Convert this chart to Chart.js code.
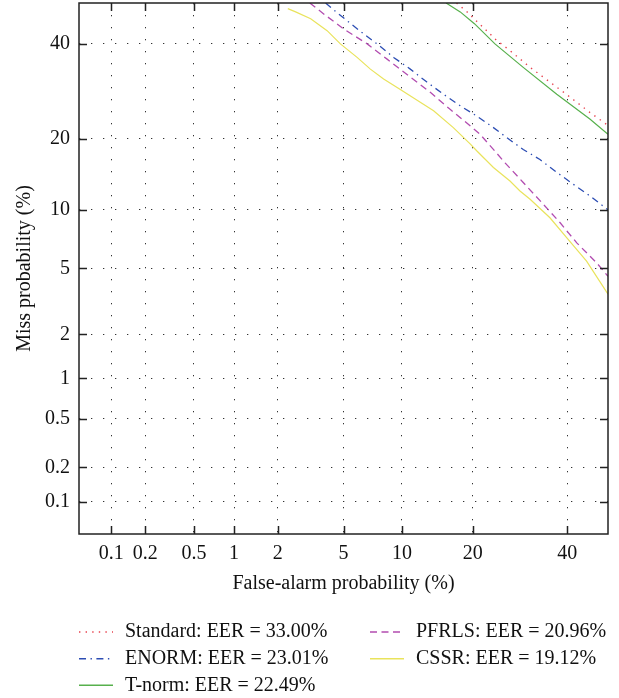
<!DOCTYPE html>
<html><head><meta charset="utf-8">
<script src="https://cdn.jsdelivr.net/npm/chart.js@4.4.1/dist/chart.umd.min.js"></script>
<style>html,body{margin:0;padding:0;background:#fff;}</style>
</head><body>
<canvas id="c" width="619" height="698"></canvas>
<script>
// ---- data (percent) ----
const tickValues = [0.1, 0.2, 0.5, 1, 2, 5, 10, 20, 40];
const tickLabels = ['0.1', '0.2', '0.5', '1', '2', '5', '10', '20', '40'];
const axisMinPct = 0.05, axisMaxPct = 50;

const seriesNames = ['Standard: EER = 33.00%', 'ENORM: EER = 23.01%', 'T-norm: EER = 22.49%', 'PFRLS: EER = 20.96%', 'CSSR: EER = 19.12%'];

const standardFA   = [17.3, 18.9, 20.4, 22.2, 24.1, 27.1, 31.4, 35.9, 40.2, 45.5, 50.0];
const standardMiss = [50.0, 48.0, 45.9, 43.6, 41.2, 38.4, 34.5, 31.2, 28.3, 24.9, 22.4];

const enormFA   = [3.95, 4.31, 5.34, 6.43, 7.84, 9.12, 10.94, 13.0, 15.3, 17.9, 20.7, 23.8, 26.45, 29.9, 33.6, 37.5, 41.5, 45.5, 50.0];
const enormMiss = [50.0, 48.6, 45.3, 42.4, 39.4, 36.8, 34.1, 31.2, 28.6, 26.2, 24.2, 22.0, 20.2, 18.2, 16.6, 14.7, 13.05, 11.6, 10.0];

const tnormFA   = [15.7, 17.9, 20.3, 24.1, 29.9, 37.5, 45.5, 50.0];
const tnormMiss = [50.0, 47.8, 44.9, 40.0, 34.5, 28.6, 23.6, 20.8];

const pfrlsFA   = [3.18, 3.85, 5.01, 6.71, 8.47, 10.56, 13.45, 16.3, 19.6, 21.3, 23.2, 26.1, 29.9, 34.4, 38.3, 42.3, 47.2, 50.0];
const pfrlsMiss = [50.0, 47.3, 43.6, 40.0, 36.4, 32.9, 29.0, 25.5, 22.3, 20.8, 18.8, 16.1, 13.3, 10.6, 8.66, 6.86, 5.36, 4.52];

const cssrFA   = [2.32, 2.6, 3.22, 4.03, 4.80, 5.93, 6.97, 8.14, 9.82, 11.33, 13.9, 16.8, 19.6, 20.7, 23.8, 27.1, 29.2, 31.4, 35.9, 39.9, 44.7, 50.0];
const cssrMiss = [48.6, 47.8, 46.1, 43.2, 40.0, 36.8, 34.1, 31.9, 29.6, 27.8, 25.2, 22.0, 19.1, 18.0, 15.4, 13.5, 12.2, 11.2, 9.16, 7.28, 5.48, 3.56];

// ---- normal deviate (probit) transform used by DET plots ----
function probit(p) {
  const a=[-3.969683028665376e+01,2.209460984245205e+02,-2.759285104469687e+02,1.383577518672690e+02,-3.066479806614716e+01,2.506628277459239e+00];
  const b=[-5.447609879822406e+01,1.615858368580409e+02,-1.556989798598866e+02,6.680131188771972e+01,-1.328068155288572e+01];
  const c=[-7.784894002430293e-03,-3.223964580411365e-01,-2.400758277161838e+00,-2.549732539343734e+00,4.374664141464968e+00,2.938163982698783e+00];
  const d=[7.784695709041462e-03,3.224671290700398e-01,2.445134137142996e+00,3.754408661907416e+00];
  const pl=0.02425, ph=1-pl; let q, r;
  if (p < pl) { q=Math.sqrt(-2*Math.log(p)); return (((((c[0]*q+c[1])*q+c[2])*q+c[3])*q+c[4])*q+c[5])/((((d[0]*q+d[1])*q+d[2])*q+d[3])*q+1); }
  if (p <= ph) { q=p-0.5; r=q*q; return (((((a[0]*r+a[1])*r+a[2])*r+a[3])*r+a[4])*r+a[5])*q/(((((b[0]*r+b[1])*r+b[2])*r+b[3])*r+b[4])*r+1); }
  q=Math.sqrt(-2*Math.log(1-p)); return -(((((c[0]*q+c[1])*q+c[2])*q+c[3])*q+c[4])*q+c[5])/((((d[0]*q+d[1])*q+d[2])*q+d[3])*q+1);
}
const pts = (fa, miss) => fa.map((v, i) => ({ x: probit(v / 100), y: probit(miss[i] / 100) }));

const FONT = 'Liberation Serif';
const FS = 20;

const datasets = [
  { label: seriesNames[0], data: pts(standardFA, standardMiss), borderColor: '#e8434f', borderWidth: 1.4, borderDash: [1.4, 5.2] },
  { label: seriesNames[1], data: pts(enormFA, enormMiss), borderColor: '#2c4db3', borderWidth: 1.3, borderDash: [7, 4.5, 1.4, 4.5] },
  { label: seriesNames[2], data: pts(tnormFA, tnormMiss), borderColor: '#57b04c', borderWidth: 1.2, borderDash: [] },
  { label: seriesNames[3], data: pts(pfrlsFA, pfrlsMiss), borderColor: '#b24cb0', borderWidth: 1.3, borderDash: [7, 4.5] },
  { label: seriesNames[4], data: pts(cssrFA, cssrMiss), borderColor: '#e9e35c', borderWidth: 1.2, borderDash: [] }
].map(d => Object.assign(d, { showLine: true, pointRadius: 0, fill: false, tension: 0 }));

const framePlugin = {
  id: 'frame',
  afterDatasetsDraw(chart) {
    const { ctx, chartArea: a, scales: { x, y } } = chart;
    ctx.save();
    ctx.strokeStyle = '#222';
    ctx.lineWidth = 1.5;
    ctx.strokeRect(a.left, a.top, a.right - a.left, a.bottom - a.top);
    ctx.beginPath();
    const L = 8;
    x.ticks.forEach(t => { const px = Math.round(x.getPixelForValue(t.value)) + 0.5;
      ctx.moveTo(px, a.bottom); ctx.lineTo(px, a.bottom - L);
      ctx.moveTo(px, a.top); ctx.lineTo(px, a.top + L); });
    y.ticks.forEach(t => { const py = Math.round(y.getPixelForValue(t.value)) + 0.5;
      ctx.moveTo(a.left, py); ctx.lineTo(a.left + L, py);
      ctx.moveTo(a.right, py); ctx.lineTo(a.right - L, py); });
    ctx.stroke();
    ctx.restore();
  }
};

const legendPlugin = {
  id: 'detLegend',
  afterDraw(chart) {
    const { ctx } = chart;
    const cols = [{ x0: 79, x1: 113, tx: 125 }, { x0: 370, x1: 404, tx: 416 }];
    const rows = [632, 658.7, 685.3];
    ctx.save();
    ctx.font = FS + 'px "' + FONT + '"';
    ctx.textBaseline = 'middle';
    ctx.fillStyle = '#111';
    chart.data.datasets.forEach((ds, i) => {
      const col = cols[i < 3 ? 0 : 1], yy = rows[i < 3 ? i : i - 3];
      ctx.save();
      ctx.strokeStyle = ds.borderColor; ctx.lineWidth = ds.borderWidth + 0.2;
      ctx.setLineDash(ds.borderDash);
      ctx.beginPath(); ctx.moveTo(col.x0, yy); ctx.lineTo(col.x1, yy); ctx.stroke();
      ctx.restore();
      ctx.fillText(ds.label, col.tx, yy);
    });
    ctx.restore();
  }
};

const noPad = s => { s.paddingTop = 0; s.paddingBottom = 0; s.paddingLeft = 0; s.paddingRight = 0; };
const tickFont = { family: FONT, size: FS };
const gridOpts = { color: '#333', lineWidth: 1, drawTicks: false };
const borderOpts = { display: false, dash: [1.3, 10.7] };

new Chart(document.getElementById('c'), {
  type: 'scatter',
  data: { datasets },
  options: {
    responsive: false, animation: false, devicePixelRatio: 1,
    layout: { padding: { top: 3, right: 11, bottom: 100, left: 0 } },
    plugins: { legend: { display: false }, tooltip: { enabled: false } },
    scales: {
      x: {
        type: 'linear', min: probit(axisMinPct / 100), max: probit(axisMaxPct / 100),
        afterBuildTicks: s => { s.ticks = tickValues.map(v => ({ value: probit(v / 100) })); },
        afterFit: s => { s.height = 64; noPad(s); },
        ticks: { callback: (v, i) => tickLabels[i], font: tickFont, color: '#111', padding: 8, autoSkip: false, maxRotation: 0 },
        grid: gridOpts, border: borderOpts,
        title: { display: true, text: 'False-alarm probability (%)', font: { family: FONT, size: FS }, color: '#111', padding: { top: 0, bottom: 2 } }
      },
      y: {
        type: 'linear', min: probit(axisMinPct / 100), max: probit(axisMaxPct / 100),
        afterBuildTicks: s => { s.ticks = tickValues.map(v => ({ value: probit(v / 100) })); },
        afterFit: s => { s.width = 79; noPad(s); },
        ticks: { callback: (v, i) => tickLabels[i], font: tickFont, color: '#111', padding: 9, autoSkip: false },
        grid: gridOpts, border: borderOpts,
        title: { display: true, text: 'Miss probability (%)', font: { family: FONT, size: FS }, color: '#111', padding: { top: 13, bottom: 0 } }
      }
    }
  },
  plugins: [framePlugin, legendPlugin]
});
</script>
</body></html>
